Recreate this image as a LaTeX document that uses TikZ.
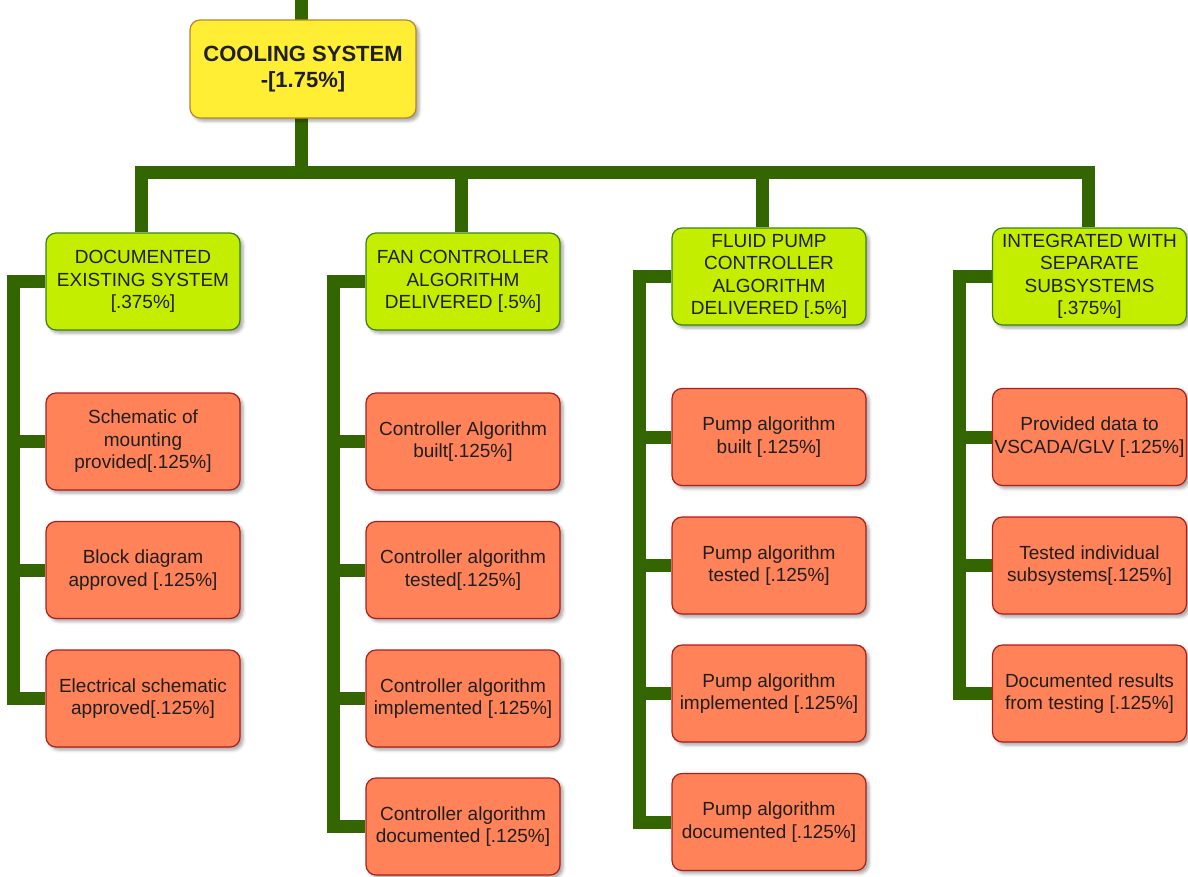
\documentclass[tikz,border=0pt]{standalone}
\usepackage{fontspec}
\setmainfont{Liberation Sans}
\usetikzlibrary{shadows.blur,backgrounds}

\definecolor{trunk}{RGB}{51,102,0}
\definecolor{rootfill}{RGB}{255,238,51}
\definecolor{rootline}{RGB}{184,134,40}
\definecolor{taskfill}{RGB}{196,238,0}
\definecolor{taskline}{RGB}{60,130,30}
\definecolor{subfill}{RGB}{255,130,88}
\definecolor{subline}{RGB}{170,30,30}

\tikzset{
  box/.style={rounded corners=10pt, line width=1.2pt, align=center,
    minimum width=194pt, minimum height=97pt, inner sep=2pt, text=black!88,
    font=\fontsize{19pt}{22.5pt}\selectfont,
    blur shadow={shadow xshift=3pt, shadow yshift=-3pt,
      shadow blur radius=3pt, shadow opacity=35}},
  rootbox/.style={box, fill=rootfill, draw=rootline,
    minimum width=226pt, minimum height=98pt,
    font=\bfseries\fontsize{22pt}{26pt}\selectfont},
  taskbox/.style={box, fill=taskfill, draw=taskline},
  subbox/.style={box, fill=subfill, draw=subline},
  link/.style={draw=trunk, line width=13pt}
}

\begin{document}
\begin{tikzpicture}[x=1pt, y=-1pt]
\useasboundingbox (0,0) rectangle (1188,876);

% top level
\node[rootbox] (root) at (303,69) {COOLING SYSTEM\\-[1.75\%]};

% work packages
\node[taskbox] (g1) at (143,281.5)  {DOCUMENTED\\EXISTING SYSTEM\\{}[.375\%]};
\node[taskbox] (g2) at (463,281.5)  {FAN CONTROLLER\\ALGORITHM\\DELIVERED [.5\%]};
\node[taskbox] (g3) at (769,276.5)  {FLUID PUMP\\CONTROLLER\\ALGORITHM\\DELIVERED [.5\%]};
\node[taskbox] (g4) at (1089.5,276.5) {INTEGRATED WITH\\SEPARATE\\SUBSYSTEMS\\{}[.375\%]};

% deliverables
\node[subbox] (c11) at (143,441.5) {Schematic of\\mounting\\provided[.125\%]};
\node[subbox] (c12) at (143,570)   {Block diagram\\approved [.125\%]};
\node[subbox] (c13) at (143,698.5) {Electrical schematic\\approved[.125\%]};

\node[subbox] (c21) at (463,441.5) {Controller Algorithm\\built[.125\%]};
\node[subbox] (c22) at (463,570)   {Controller algorithm\\tested[.125\%]};
\node[subbox] (c23) at (463,698.5) {Controller algorithm\\implemented [.125\%]};
\node[subbox] (c24) at (463,826.5) {Controller algorithm\\documented [.125\%]};

\node[subbox] (c31) at (769,437)   {Pump algorithm\\built [.125\%]};
\node[subbox] (c32) at (769,565.5) {Pump algorithm\\tested [.125\%]};
\node[subbox] (c33) at (769,693.5) {Pump algorithm\\implemented [.125\%]};
\node[subbox] (c34) at (769,822)   {Pump algorithm\\documented [.125\%]};

\node[subbox] (c41) at (1089.5,437)   {Provided data to\\VSCADA/GLV [.125\%]};
\node[subbox] (c42) at (1089.5,565.5) {Tested individual\\subsystems[.125\%]};
\node[subbox] (c43) at (1089.5,693.5) {Documented results\\from testing [.125\%]};

\coordinate (top) at (301,0);
\coordinate (bar) at (301,172);

\begin{pgfonlayer}{background}
  % trunk and horizontal bar
  \draw[link] (top) -- (bar);
  \draw[link] (bar) -| ([xshift=-2pt]g1.north);
  \draw[link] (bar) -| ([xshift=-2pt]g2.north);
  \draw[link] (bar) -| ([xshift=-7pt]g3.north);
  \draw[link] (bar) -| ([xshift=-1.5pt]g4.north);

  % side spines
  \draw[link] (g1.west) -| ([xshift=-32pt]c13.west) -- (c13.west);
  \foreach \c in {c11,c12} \draw[link] ([xshift=-32pt]\c.west) -- (\c.west);

  \draw[link] (g2.west) -| ([xshift=-32pt]c24.west) -- (c24.west);
  \foreach \c in {c21,c22,c23} \draw[link] ([xshift=-32pt]\c.west) -- (\c.west);

  \draw[link] (g3.west) -| ([xshift=-32pt]c34.west) -- (c34.west);
  \foreach \c in {c31,c32,c33} \draw[link] ([xshift=-32pt]\c.west) -- (\c.west);

  \draw[link] (g4.west) -| ([xshift=-32pt]c43.west) -- (c43.west);
  \foreach \c in {c41,c42} \draw[link] ([xshift=-32pt]\c.west) -- (\c.west);
\end{pgfonlayer}
\end{tikzpicture}
\end{document}
